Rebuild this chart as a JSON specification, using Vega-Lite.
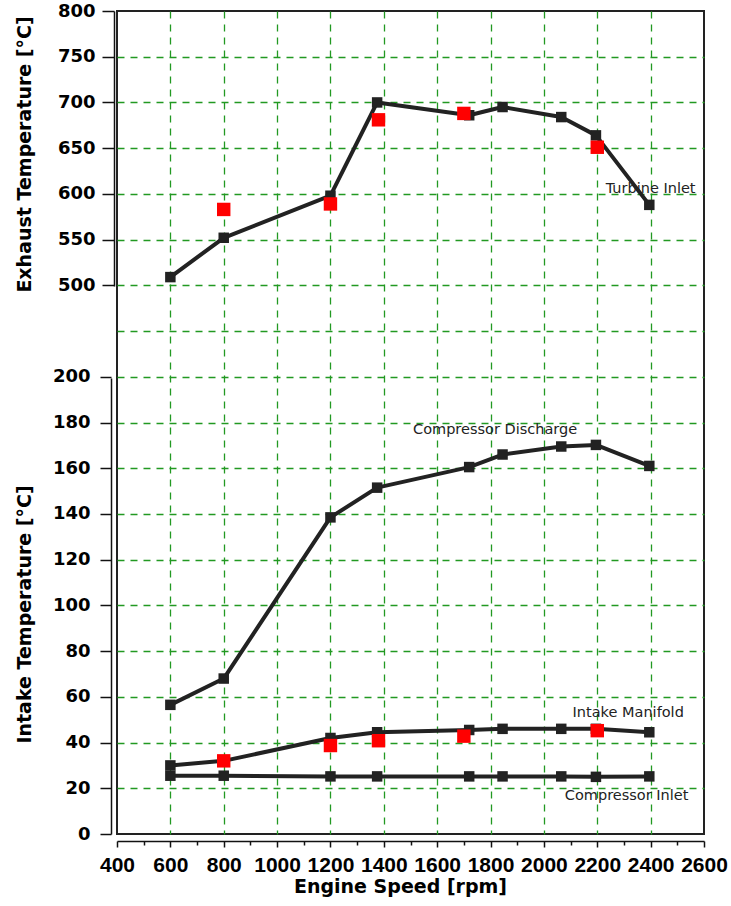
{
  "$schema": "https://vega.github.io/schema/vega-lite/v6.json",
  "width": 587,
  "height": 823,
  "autosize": "none",
  "padding": {"left": 117, "top": 11, "right": 27, "bottom": 72},
  "background": "white",
  "config": {
    "view": {"stroke": "#222", "strokeWidth": 2},
    "axis": {"labelFlush": false, "labelOverlap": false, "labelBound": false}
  },
  "datasets": {
    "exhaust": [
      {"rpm": 600, "temp": 509}, {"rpm": 800, "temp": 552}, {"rpm": 1200, "temp": 598},
      {"rpm": 1375, "temp": 700}, {"rpm": 1720, "temp": 686}, {"rpm": 1845, "temp": 695},
      {"rpm": 2065, "temp": 684}, {"rpm": 2195, "temp": 664}, {"rpm": 2395, "temp": 588}
    ],
    "exhaustMeas": [
      {"rpm": 800, "temp": 583}, {"rpm": 1200, "temp": 589}, {"rpm": 1380, "temp": 681},
      {"rpm": 1700, "temp": 688}, {"rpm": 2200, "temp": 651}
    ],
    "exLabels": [
      {"rpm": 2400, "temp": 605, "label": "Turbine Inlet"}
    ],
    "intake": [
      {"series": "Compressor Discharge", "rpm": 600, "temp": 56.5},
      {"series": "Compressor Discharge", "rpm": 800, "temp": 68},
      {"series": "Compressor Discharge", "rpm": 1200, "temp": 138.5},
      {"series": "Compressor Discharge", "rpm": 1375, "temp": 151.5},
      {"series": "Compressor Discharge", "rpm": 1720, "temp": 160.5},
      {"series": "Compressor Discharge", "rpm": 1845, "temp": 166},
      {"series": "Compressor Discharge", "rpm": 2065, "temp": 169.5},
      {"series": "Compressor Discharge", "rpm": 2195, "temp": 170.2},
      {"series": "Compressor Discharge", "rpm": 2395, "temp": 161},
      {"series": "Intake Manifold", "rpm": 600, "temp": 30},
      {"series": "Intake Manifold", "rpm": 800, "temp": 32},
      {"series": "Intake Manifold", "rpm": 1200, "temp": 42},
      {"series": "Intake Manifold", "rpm": 1375, "temp": 44.5},
      {"series": "Intake Manifold", "rpm": 1720, "temp": 45.5},
      {"series": "Intake Manifold", "rpm": 1845, "temp": 46},
      {"series": "Intake Manifold", "rpm": 2065, "temp": 46},
      {"series": "Intake Manifold", "rpm": 2195, "temp": 46},
      {"series": "Intake Manifold", "rpm": 2395, "temp": 44.5},
      {"series": "Compressor Inlet", "rpm": 600, "temp": 25.5},
      {"series": "Compressor Inlet", "rpm": 800, "temp": 25.5},
      {"series": "Compressor Inlet", "rpm": 1200, "temp": 25.2},
      {"series": "Compressor Inlet", "rpm": 1375, "temp": 25.2},
      {"series": "Compressor Inlet", "rpm": 1720, "temp": 25.2},
      {"series": "Compressor Inlet", "rpm": 1845, "temp": 25.2},
      {"series": "Compressor Inlet", "rpm": 2065, "temp": 25.2},
      {"series": "Compressor Inlet", "rpm": 2195, "temp": 25},
      {"series": "Compressor Inlet", "rpm": 2395, "temp": 25.2}
    ],
    "intakeMeas": [
      {"rpm": 800, "temp": 32}, {"rpm": 1200, "temp": 38.7}, {"rpm": 1380, "temp": 40.8},
      {"rpm": 1700, "temp": 42.8}, {"rpm": 2200, "temp": 45.2}
    ],
    "inLabels": [
      {"rpm": 1817, "temp": 176.7, "label": "Compressor Discharge"},
      {"rpm": 2316, "temp": 53.1, "label": "Intake Manifold"},
      {"rpm": 2310, "temp": 16.8, "label": "Compressor Inlet"}
    ]
  },
  "encoding": {
    "x": {
      "field": "rpm", "type": "quantitative",
      "scale": {"domain": [400, 2600], "nice": false, "zero": false},
      "axis": {
        "orient": "bottom", "offset": 7,
        "values": [400,500,600,700,800,900,1000,1100,1200,1300,1400,1500,1600,1700,1800,1900,2000,2100,2200,2300,2400,2500,2600],
        "format": "d",
        "labelExpr": "datum.value % 200 == 0 ? datum.label : ''",
        "tickSize": {"condition": {"test": "datum.value % 200 == 0", "value": 6}, "value": 4},
        "tickColor": "#111", "tickWidth": 1.5,
        "domainColor": "#111", "domainWidth": 1.5,
        "grid": true, "gridColor": "#229922", "gridDash": [7, 6], "gridWidth": 1.3,
        "gridOpacity": {"condition": {"test": "datum.value % 200 == 0 && datum.value > 400 && datum.value < 2600", "value": 1}, "value": 0},
        "labelFont": "Liberation Sans", "labelFontWeight": "bold", "labelFontSize": 21, "labelColor": "#000", "labelPadding": 7,
        "title": "Engine Speed [rpm]", "titleFont": "DejaVu Sans", "titleFontWeight": "bold", "titleFontSize": 19, "titleColor": "#000",
        "titleX": 283, "titleY": 45, "titleAlign": "center", "titleBaseline": "middle"
      }
    }
  },
  "layer": [
    {
      "encoding": {
        "y": {
          "field": "temp", "type": "quantitative",
          "scale": {"domain": [-100, 800], "nice": false, "zero": false},
          "axis": {
            "orient": "left", "offset": 3,
            "values": [450, 500, 550, 600, 650, 700, 750, 800],
            "format": "d",
            "labelExpr": "datum.value == 450 ? '' : datum.label",
            "tickSize": 12, "tickWidth": 1.5, "tickColor": "#111",
            "tickOpacity": {"condition": {"test": "datum.value == 450", "value": 0}, "value": 1},
            "domain": true, "domainColor": "#111", "domainWidth": 1.5, "domainDash": [0, 548, 276, 1000],
            "grid": true, "gridColor": "#229922", "gridDash": [7, 6], "gridWidth": 1.3,
            "gridOpacity": {"condition": {"test": "datum.value == 800", "value": 0}, "value": 1},
            "labelFont": "DejaVu Sans", "labelFontWeight": "bold", "labelFontSize": 18, "labelColor": "#000", "labelPadding": 7,
            "title": "Exhaust Temperature [°C]", "titleFont": "DejaVu Sans", "titleFontWeight": "bold", "titleFontSize": 19, "titleColor": "#000",
            "titleAngle": -90, "titleX": -90, "titleY": 143, "titleAlign": "center", "titleBaseline": "middle"
          }
        }
      },
      "layer": [
        {"data": {"name": "exhaust"}, "mark": {"type": "line", "color": "#222", "strokeWidth": 4, "strokeJoin": "round"}},
        {"data": {"name": "exhaust"}, "mark": {"type": "point", "shape": "square", "filled": true, "size": 110, "color": "#222", "opacity": 1}},
        {"data": {"name": "exhaustMeas"}, "mark": {"type": "point", "shape": "square", "filled": true, "size": 180, "color": "#ff0000", "opacity": 1}},
        {"data": {"name": "exLabels"}, "mark": {"type": "text", "font": "DejaVu Sans", "fontSize": 14.5, "color": "#222", "align": "center", "baseline": "middle"},
         "encoding": {"text": {"field": "label"}}}
      ]
    },
    {
      "encoding": {
        "y": {
          "field": "temp", "type": "quantitative",
          "scale": {"domain": [0, 360], "nice": false, "zero": false},
          "axis": {
            "orient": "left", "offset": 6,
            "values": [0, 20, 40, 60, 80, 100, 120, 140, 160, 180, 200],
            "format": "d",
            "tickSize": 11, "tickWidth": 1.5, "tickColor": "#111",
            "domain": true, "domainColor": "#111", "domainWidth": 1.5, "domainDash": [456, 1000],
            "grid": true, "gridColor": "#229922", "gridDash": [7, 6], "gridWidth": 1.3,
            "gridOpacity": {"condition": {"test": "datum.value == 0", "value": 0}, "value": 1},
            "labelFont": "DejaVu Sans", "labelFontWeight": "bold", "labelFontSize": 18, "labelColor": "#000", "labelPadding": 10,
            "title": "Intake Temperature [°C]", "titleFont": "DejaVu Sans", "titleFontWeight": "bold", "titleFontSize": 19, "titleColor": "#000",
            "titleAngle": -90, "titleX": -87, "titleY": 603, "titleAlign": "center", "titleBaseline": "middle"
          }
        }
      },
      "layer": [
        {"data": {"name": "intake"}, "mark": {"type": "line", "color": "#222", "strokeWidth": 4, "strokeJoin": "round"},
         "encoding": {"detail": {"field": "series"}}},
        {"data": {"name": "intake"}, "mark": {"type": "point", "shape": "square", "filled": true, "size": 110, "color": "#222", "opacity": 1}},
        {"data": {"name": "intakeMeas"}, "mark": {"type": "point", "shape": "square", "filled": true, "size": 180, "color": "#ff0000", "opacity": 1}},
        {"data": {"name": "inLabels"}, "mark": {"type": "text", "font": "DejaVu Sans", "fontSize": 14.5, "color": "#222", "align": "center", "baseline": "middle"},
         "encoding": {"text": {"field": "label"}}}
      ]
    }
  ],
  "resolve": {"scale": {"y": "independent"}, "axis": {"y": "independent"}}
}
